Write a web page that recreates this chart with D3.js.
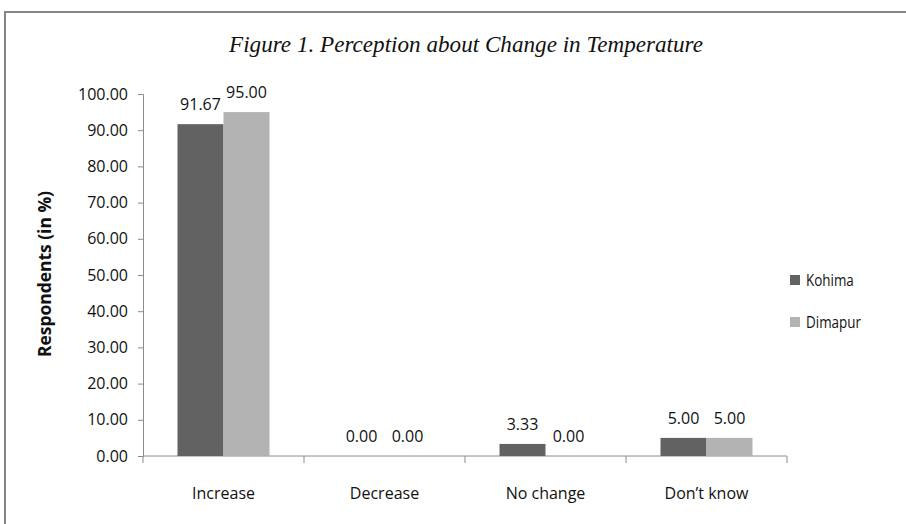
<!DOCTYPE html>
<html>
<head>
<meta charset="utf-8">
<script src="https://cdn.jsdelivr.net/npm/d3@7"></script>
<style>
  body { margin: 0; background: #fff; }
  svg text { font-family: "Open Sans", "Noto Sans", sans-serif; fill: #111; }
</style>
</head>
<body>
<svg id="main-vis" width="906" height="524"></svg>
<script>
const categories = ["Increase", "Decrease", "No change", "Don\u2019t know"];
const seriesNames = ["Kohima", "Dimapur"];
const kohimaValues = [91.67, 0.00, 3.33, 5.00];
const dimapurValues = [95.00, 0.00, 0.00, 5.00];
const yTicks = [0, 10, 20, 30, 40, 50, 60, 70, 80, 90, 100];
const seriesColors = ["#626262", "#b3b3b3"];

const svg = d3.select("#main-vis");

// frame round the chart area (only top and left show)
svg.append("path")
  .attr("d", "M5,524 V12 H906")
  .attr("fill", "none")
  .attr("stroke", "#858585")
  .attr("stroke-width", 2);

const plot = { left: 143, right: 787, top: 94, bottom: 456 };

const x = d3.scaleBand()
  .domain(categories)
  .range([plot.left, plot.right]);

const y = d3.scaleLinear()
  .domain([0, 100])
  .range([plot.bottom, plot.top]);

// title
svg.append("text")
  .attr("x", 466)
  .attr("y", 52)
  .attr("text-anchor", "middle")
  .style("font-family", "'Liberation Serif', 'DejaVu Serif', serif")
  .style("font-style", "italic")
  .style("font-size", "23px")
  .attr("textLength", 474)
  .attr("lengthAdjust", "spacingAndGlyphs")
  .text("Figure 1. Perception about Change in Temperature");

// y axis
const yAxis = svg.append("g")
  .attr("transform", `translate(${plot.left},0)`)
  .call(d3.axisLeft(y).tickValues(yTicks).tickSize(5).tickPadding(10)
    .tickFormat(d3.format(".2f")));
yAxis.select(".domain").attr("stroke", "#8c8c8c");
yAxis.selectAll(".tick line").attr("stroke", "#8c8c8c");
yAxis.selectAll("text").style("font-size", "16px").attr("fill", "#111");

// x axis, ticks sit on the band edges
const xAxis = svg.append("g")
  .attr("transform", `translate(0,${plot.bottom})`);
xAxis.append("line")
  .attr("x1", plot.left).attr("x2", plot.right)
  .attr("stroke", "#8c8c8c");
xAxis.selectAll(".xtick")
  .data(categories.concat([null]))
  .enter().append("line")
  .attr("x1", (d, i) => i < categories.length ? x(d) : plot.right)
  .attr("x2", (d, i) => i < categories.length ? x(d) : plot.right)
  .attr("y1", 0).attr("y2", 7)
  .attr("stroke", "#8c8c8c");
xAxis.selectAll(".xlabel")
  .data(categories)
  .enter().append("text")
  .attr("x", d => x(d) + x.bandwidth() / 2)
  .attr("y", 43)
  .attr("text-anchor", "middle")
  .style("font-size", "16px")
  .text(d => d);

// bars
const rows = categories.map((c, i) => ({
  category: c,
  values: [kohimaValues[i], dimapurValues[i]]
}));

const barW = 46;
const groups = svg.selectAll(".grp")
  .data(rows)
  .enter().append("g")
  .attr("transform", d => `translate(${x(d.category) + x.bandwidth() / 2 - barW},0)`);

groups.selectAll("rect")
  .data(d => d.values)
  .enter().append("rect")
  .attr("x", (v, i) => i * barW)
  .attr("y", v => y(v))
  .attr("width", barW)
  .attr("height", v => y(0) - y(v))
  .attr("fill", (v, i) => seriesColors[i]);

groups.selectAll(".lbl")
  .data(d => d.values)
  .enter().append("text")
  .attr("x", (v, i) => i * barW + barW / 2)
  .attr("y", v => y(v) - 14)
  .attr("text-anchor", "middle")
  .style("font-size", "16px")
  .text(v => v.toFixed(2));

// y label
svg.append("text")
  .attr("transform", "translate(51,274) rotate(-90)")
  .attr("text-anchor", "middle")
  .style("font-size", "17px")
  .style("font-weight", "bold")
  .attr("textLength", 166)
  .attr("lengthAdjust", "spacingAndGlyphs")
  .text("Respondents (in %)");

// legend
const legend = svg.selectAll(".leg")
  .data(seriesNames)
  .enter().append("g")
  .attr("transform", (d, i) => `translate(790,${275 + i * 42})`);
legend.append("rect")
  .attr("width", 10).attr("height", 10)
  .attr("fill", (d, i) => seriesColors[i]);
legend.append("text")
  .attr("x", 16).attr("y", 11)
  .style("font-size", "17px")
  .text(d => d)
  .each(function() {
    // calibri-ish narrower widths
    const w = this.getComputedTextLength();
    d3.select(this).attr("textLength", w * 0.79).attr("lengthAdjust", "spacingAndGlyphs");
  });
</script>
</body>
</html>
